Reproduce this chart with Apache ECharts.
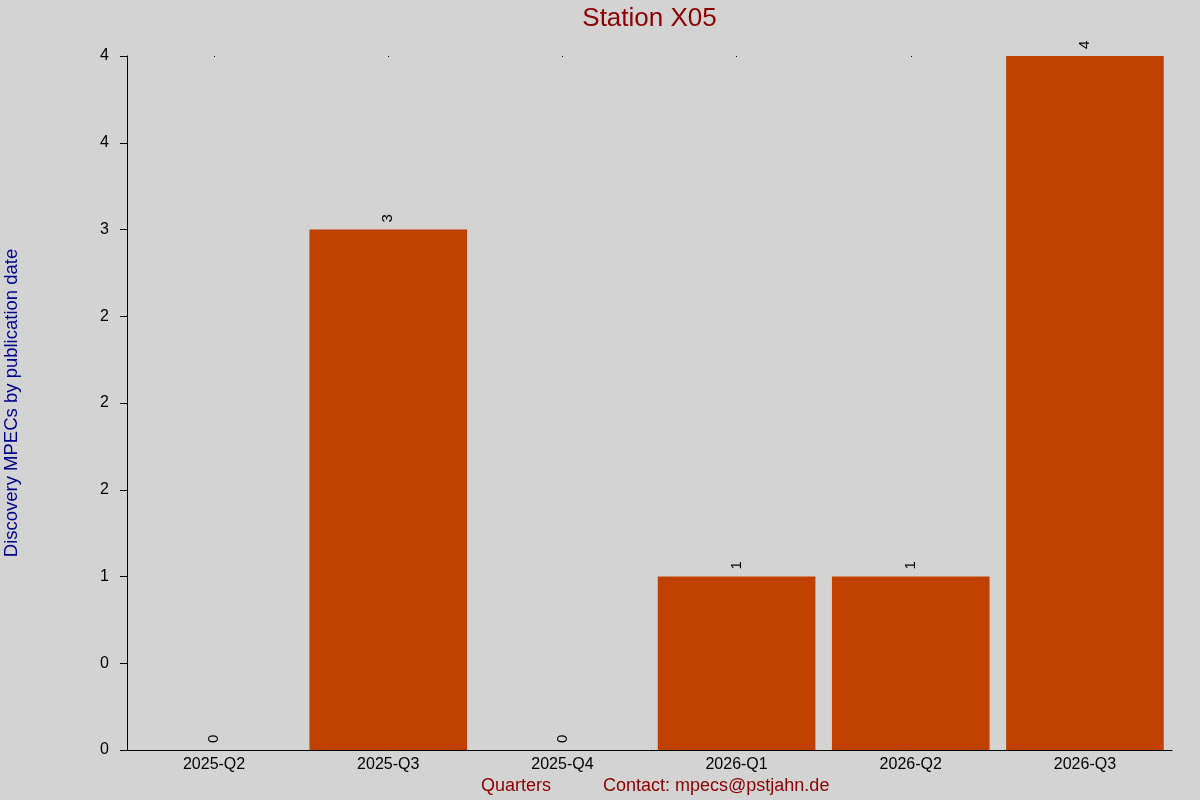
<!DOCTYPE html>
<html>
<head>
<meta charset="utf-8">
<script src="https://cdn.jsdelivr.net/npm/echarts@6/dist/echarts.min.js"></script>
<style>html,body{margin:0;padding:0;background:#d3d3d3;}#c{width:1200px;height:800px;}</style>
</head>
<body>
<div id="c"></div>
<script>
const categories = ["2025-Q2","2025-Q3","2025-Q4","2026-Q1","2026-Q2","2026-Q3"];
const values = [0, 3, 0, 1, 1, 4];
const yTickLabels = ["0","0","1","2","2","2","3","4","4"];

const chart = echarts.init(document.getElementById('c'));
chart.setOption({
  backgroundColor: '#d3d3d3',
  animation: false,
  grid: {left: 127, right: 28, top: 56, bottom: 50, containLabel: false, outerBoundsMode: 'none'},
  xAxis: [{
    type: 'category', data: categories,
    axisLine: {lineStyle: {color: '#000', width: 1}},
    axisTick: {show: false},
    axisLabel: {color: '#000', fontSize: 16, fontFamily: 'Liberation Sans', margin: 7}
  }, {
    type: 'category', data: categories, position: 'top',
    axisLine: {show: false},
    axisTick: {show: true, alignWithLabel: true, length: 1, inside: true, lineStyle: {color: '#000'}},
    axisLabel: {show: false}
  }],
  yAxis: {
    type: 'value', min: 0, max: 4, interval: 0.5,
    name: 'Discovery MPECs by publication date',
    nameLocation: 'middle', nameGap: 106,
    nameTextStyle: {color: '#00008b', fontSize: 18.5, fontFamily: 'Liberation Sans'},
    axisLine: {show: true, lineStyle: {color: '#000', width: 1}},
    axisTick: {show: true, length: 7, lineStyle: {color: '#000'}},
    splitLine: {show: false},
    axisLabel: {
      color: '#000', fontSize: 16, fontFamily: 'Liberation Sans', margin: 18,
      formatter: function (v) { return yTickLabels[Math.round(v / 0.5)]; }
    }
  },
  series: [{
    type: 'bar', data: values, barCategoryGap: '9.5%',
    itemStyle: {color: '#c04000'},
    label: {
      show: true, position: 'top', rotate: 90, align: 'left', verticalAlign: 'middle',
      distance: 7, color: '#000', fontSize: 15, fontFamily: 'Liberation Sans'
    }
  }],
  graphic: [
    {type: 'text', x: 649.5, y: 19, style: {text: 'Station X05', fill: '#8b0000', fontSize: 26, fontFamily: 'Liberation Sans', align: 'center', verticalAlign: 'middle'}},
    {type: 'text', left: 481, top: 777, style: {text: 'Quarters', fill: '#8b0000', fontSize: 18, fontFamily: 'Liberation Sans'}},
    {type: 'text', left: 603, top: 777, style: {text: 'Contact: mpecs@pstjahn.de', fill: '#8b0000', fontSize: 18, fontFamily: 'Liberation Sans'}}
  ]
});
</script>
</body>
</html>
